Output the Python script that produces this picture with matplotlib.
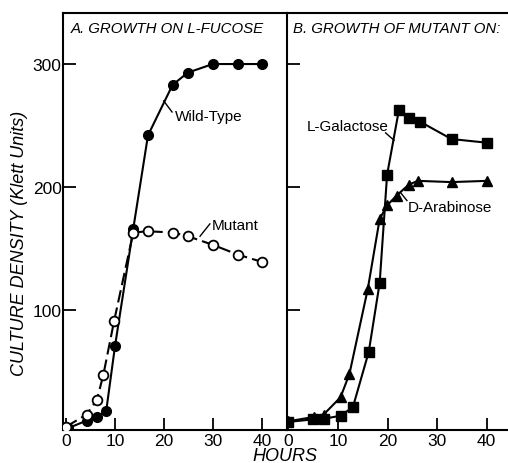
import matplotlib
matplotlib.use("Agg")
import matplotlib.pyplot as plt

# Panel A: growth on L-fucose
hours_wild = [0.5, 4.2, 6.3, 8.2, 10, 13.7, 16.7, 21.7, 24.8, 29.9, 35, 40]
wild_type = [4, 10, 13, 18, 71, 166, 242, 283, 293, 300, 300, 300]
hours_mut = [0, 4.2, 6.3, 7.6, 9.8, 13.7, 16.7, 21.7, 24.8, 29.9, 35, 40]
mutant = [5, 15, 27, 47, 91, 163, 164, 163, 160, 153, 145, 139]

# Panel B: growth of mutant on other sugars
hours_gal = [0, 4.9, 7.1, 10.5, 13, 16.2, 18.4, 19.9, 22.3, 24.4, 26.6, 32.9, 40.1]
galactose = [9, 11, 11.5, 14, 21, 66, 122, 210, 263, 256, 253, 239, 236]
hours_ara = [0, 5.1, 7.1, 10.5, 12.3, 16, 18.4, 19.9, 21.8, 24.3, 26.1, 32.9, 40.1]
arabinose = [9.5, 13, 15, 29, 48, 117, 174, 185, 193, 202, 205, 204, 205]

x_ticks = [0, 10, 20, 30, 40]
y_ticks = [100, 200, 300]

plt.rcParams['font.family'] = 'Liberation Sans'

fig = plt.figure(figsize=(5.08, 4.64), dpi=100)
W, H = 508, 464
ax_a = fig.add_axes([63 / W, (H - 431) / H, (287 - 63) / W, (431 - 14) / H])
ax_b = fig.add_axes([287 / W, (H - 431) / H, (W - 287) / W, (431 - 14) / H])

for ax in (ax_a, ax_b):
    ax.set_ylim(2.4, 341.5)
    ax.set_xticks(x_ticks)
    ax.set_yticks(y_ticks)
    ax.tick_params(direction='in', length=9, width=1.3, labelsize=12.5, pad=2)
    for side in ('left', 'top', 'bottom'):
        ax.spines[side].set_linewidth(1.5)
    ax.spines['right'].set_visible(False)

ax_a.set_xlim(-0.6, 45)
ax_b.set_xlim(-0.3, 44.3)
ax_b.tick_params(labelleft=False)
ax_a.tick_params(axis='y', pad=1)

# wild type and mutant on L-fucose
ax_a.plot(hours_wild, wild_type, color='black', lw=1.5, marker='o',
          ms=7, mfc='black', mec='black', zorder=3)
ax_a.plot(hours_mut, mutant, color='black', lw=1.5, ls=(0, (6, 2.5)),
          marker='o', ms=7, mfc='white', mec='black', mew=1.3, zorder=4)

ax_a.text(22.2, 258, 'Wild-Type', fontsize=11, va='center', ha='left')
ax_a.plot([19.9, 21.6], [270, 261], color='black', lw=1)
ax_a.text(29.6, 169, 'Mutant', fontsize=11, va='center', ha='left')
ax_a.plot([27.3, 29.3], [160, 170], color='black', lw=1)

ax_a.text(1.0, 329, 'A. GROWTH ON L-FUCOSE', fontsize=10.8,
          style='italic', va='center', ha='left')

# mutant on L-galactose and D-arabinose
ax_b.plot(hours_gal, galactose, color='black', lw=1.5, marker='s',
          ms=6.5, mfc='black', mec='black', zorder=3)
ax_b.plot(hours_ara, arabinose, color='black', lw=1.5, marker='^',
          ms=7.5, mfc='black', mec='black', zorder=3)

ax_b.text(3.6, 250, 'L-Galactose', fontsize=11, va='center', ha='left')
ax_b.plot([19.6, 21.3], [244, 238], color='black', lw=1)
ax_b.text(24, 184, 'D-Arabinose', fontsize=11, va='center', ha='left')
ax_b.plot([22.7, 23.9], [195, 189], color='black', lw=1)

ax_b.text(1.0, 329, 'B. GROWTH OF MUTANT ON:', fontsize=10.8,
          style='italic', va='center', ha='left')

fig.text(20 / W, 1 - 243 / H, 'CULTURE DENSITY (Klett Units)', fontsize=13,
         style='italic', rotation=90, va='center', ha='center')
fig.text(285 / W, 1 - 457 / H, 'HOURS', fontsize=13, style='italic',
         va='center', ha='center')

fig.savefig('out.png', dpi=100)
